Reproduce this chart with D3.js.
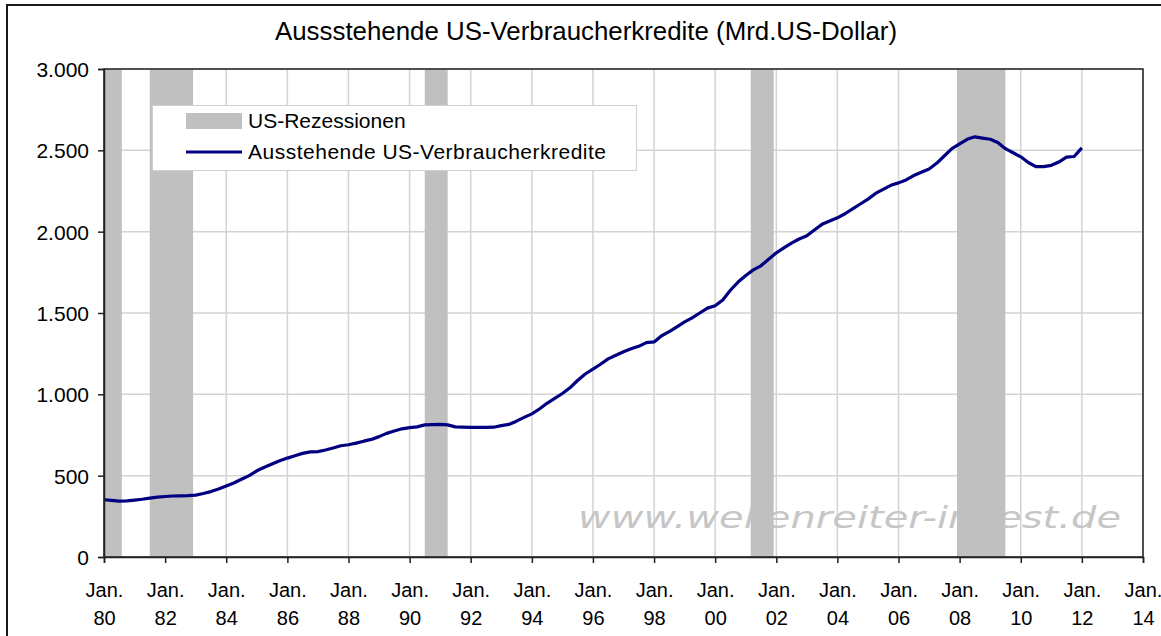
<!DOCTYPE html>
<html>
<head>
<meta charset="utf-8">
<script src="https://cdn.jsdelivr.net/npm/d3@7"></script>
<style>
  body { margin: 0; background: #fff; }
  svg { display: block; font-family: "Liberation Sans", Arial, sans-serif; }
</style>
</head>
<body>
<svg id="chart" width="1161" height="636"></svg>
<script>
// Ausstehende US-Verbraucherkredite, Mrd. US-Dollar, Quartalswerte ab Jan. 1980
const startJahr = 1980;
const kredite = [
  352, 348, 343, 345,      // 1980
  350, 355, 362, 368,      // 1981
  372, 375, 376, 377,      // 1982
  380, 390, 402, 418,      // 1983
  437, 455, 478, 500,      // 1984
  530, 552, 572, 592,      // 1985
  608, 622, 637, 646,      // 1986
  648, 658, 670, 684,      // 1987
  690, 700, 712, 723,      // 1988
  740, 760, 775, 788,      // 1989
  795, 800, 812, 814,      // 1990
  815, 812, 800, 798,      // 1991
  797, 797, 797, 798,      // 1992
  808, 815, 835, 858,      // 1993
  880, 910, 945, 975,      // 1994
  1005, 1040, 1085, 1125,  // 1995
  1155, 1185, 1218, 1240,  // 1996
  1262, 1280, 1295, 1318,  // 1997
  1322, 1360, 1385, 1415,  // 1998
  1445, 1470, 1500, 1530,  // 1999
  1545, 1580, 1640, 1690,  // 2000
  1730, 1765, 1790, 1830,  // 2001
  1870, 1900, 1930, 1955,  // 2002
  1975, 2010, 2045, 2065,  // 2003
  2085, 2110, 2140, 2170,  // 2004
  2200, 2235, 2260, 2285,  // 2005
  2300, 2318, 2345, 2365,  // 2006
  2385, 2420, 2465, 2510,  // 2007
  2540, 2568, 2583, 2575,  // 2008
  2568, 2548, 2510, 2485,  // 2009
  2460, 2425, 2400, 2400,  // 2010
  2408, 2428, 2458, 2462,  // 2011
  2515                     // 2012
];

// US-Rezessionen (Beginn, Ende)
const rezessionen = [
  ["1980-01", "1980-08"],
  ["1981-07", "1982-12"],
  ["1990-07", "1991-04"],
  ["2001-03", "2001-12"],
  ["2007-12", "2009-07"]
];

const yTicks = [0, 500, 1000, 1500, 2000, 2500, 3000];
const xStart = "1980-01", xEnde = "2014-01";
const titel = "Aussstehende US-Verbraucherkredite (Mrd.US-Dollar)";
const legendeNamen = ["US-Rezessionen", "Ausstehende US-Verbraucherkredite"];
const wasserzeichen = "www.wellenreiter-invest.de";

const parseMonat = d3.timeParse("%Y-%m");
const daten = kredite.map((v, i) => ({ datum: new Date(startJahr, i * 3, 1), wert: v }));

const svg = d3.select("#chart");
const plot = { left: 104, right: 1143, top: 69, bottom: 557 };

const x = d3.scaleTime()
  .domain([parseMonat(xStart), parseMonat(xEnde)])
  .range([plot.left, plot.right]);
const y = d3.scaleLinear()
  .domain([0, 3000])
  .range([plot.bottom, plot.top]);

const de = d3.formatLocale({ decimal: ",", thousands: ".", grouping: [3], currency: ["", " €"] });
const fmtY = de.format(",.0f");

// äußerer Rahmen
svg.append("rect")
  .attr("x", 7).attr("y", 5).attr("width", 1200).attr("height", 700)
  .attr("fill", "#fff").attr("stroke", "#1a1a1a").attr("stroke-width", 2);

// Titel
svg.append("text")
  .attr("x", 586).attr("y", 40)
  .attr("text-anchor", "middle")
  .attr("font-size", 25)
  .attr("textLength", 622)
  .attr("lengthAdjust", "spacingAndGlyphs")
  .attr("fill", "#000")
  .text(titel);

// Gitternetz
const xTickWerte = x.ticks(d3.timeYear.every(2));
svg.append("g").selectAll("line.v")
  .data(xTickWerte)
  .join("line")
  .attr("x1", d => x(d)).attr("x2", d => x(d))
  .attr("y1", plot.top).attr("y2", plot.bottom)
  .attr("stroke", "#d3d3d3").attr("stroke-width", 1.5);
svg.append("g").selectAll("line.h")
  .data(yTicks)
  .join("line")
  .attr("x1", plot.left).attr("x2", plot.right)
  .attr("y1", d => y(d)).attr("y2", d => y(d))
  .attr("stroke", "#d3d3d3").attr("stroke-width", 1.5);

// Wasserzeichen
svg.append("text")
  .attr("x", 578).attr("y", 528)
  .attr("font-family", "'DejaVu Sans', Verdana, sans-serif")
  .attr("font-style", "italic")
  .attr("font-size", 30)
  .attr("textLength", 543)
  .attr("lengthAdjust", "spacingAndGlyphs")
  .attr("fill", "#c6c6c6")
  .text(wasserzeichen);

// Rezessionsbalken
svg.append("g").selectAll("rect")
  .data(rezessionen)
  .join("rect")
  .attr("x", d => x(parseMonat(d[0])))
  .attr("width", d => x(parseMonat(d[1])) - x(parseMonat(d[0])))
  .attr("y", plot.top)
  .attr("height", plot.bottom - plot.top)
  .attr("fill", "#c0c0c0");

// Rahmen der Zeichenfläche
svg.append("rect")
  .attr("x", plot.left).attr("y", plot.top)
  .attr("width", plot.right - plot.left).attr("height", plot.bottom - plot.top)
  .attr("fill", "none").attr("stroke", "#222").attr("stroke-width", 1.5);

// Linie
const linie = d3.line()
  .x(d => x(d.datum))
  .y(d => y(d.wert));
svg.append("path")
  .datum(daten)
  .attr("d", linie)
  .attr("fill", "none")
  .attr("stroke", "#000080")
  .attr("stroke-width", 3.2)
  .attr("stroke-linejoin", "round");

// Achsen
const yAchse = svg.append("g")
  .attr("transform", `translate(${plot.left},0)`)
  .call(d3.axisLeft(y).tickValues(yTicks).tickFormat(fmtY).tickSize(6).tickPadding(9));
yAchse.select(".domain").attr("stroke", "#222").attr("stroke-width", 1.5);
yAchse.selectAll(".tick line").attr("stroke", "#222").attr("stroke-width", 1.5);
yAchse.selectAll(".tick text")
  .attr("font-size", 21).attr("font-family", "'Liberation Sans', Arial, sans-serif")
  .attr("fill", "#000").attr("dy", "0.35em");

const xAchse = svg.append("g")
  .attr("transform", `translate(0,${plot.bottom})`)
  .call(d3.axisBottom(x).tickValues(xTickWerte).tickFormat("").tickSize(6));
xAchse.select(".domain").attr("stroke", "#222").attr("stroke-width", 1.5);
xAchse.selectAll(".tick line").attr("stroke", "#222").attr("stroke-width", 1.5);
const jahrFmt = d3.timeFormat("%y");
xAchse.selectAll(".tick text").remove();
xAchse.selectAll(".tick").append("text")
  .attr("text-anchor", "middle")
  .attr("font-size", 20)
  .attr("font-family", "'Liberation Sans', Arial, sans-serif")
  .attr("fill", "#000")
  .each(function(d) {
    const t = d3.select(this);
    t.append("tspan").attr("x", 0).attr("y", 40).text("Jan.");
    t.append("tspan").attr("x", 0).attr("y", 68).text(jahrFmt(d));
  });

// Legende
const leg = svg.append("g");
leg.append("rect")
  .attr("x", 152.5).attr("y", 105.5).attr("width", 484).attr("height", 65)
  .attr("fill", "#fff").attr("stroke", "#d0d0d0").attr("stroke-width", 1);
leg.append("rect")
  .attr("x", 186).attr("y", 113).attr("width", 56).attr("height", 16)
  .attr("fill", "#c0c0c0");
leg.append("line")
  .attr("x1", 186).attr("x2", 242).attr("y1", 152).attr("y2", 152)
  .attr("stroke", "#000080").attr("stroke-width", 3.2);
leg.selectAll("text.leg")
  .data(legendeNamen)
  .join("text")
  .attr("x", 248)
  .attr("y", (d, i) => i === 0 ? 128 : 159)
  .attr("font-size", 21)
  .attr("letter-spacing", (d, i) => i === 0 ? 0 : 0.5)
  .attr("fill", "#000")
  .text(d => d);
</script>
</body>
</html>
